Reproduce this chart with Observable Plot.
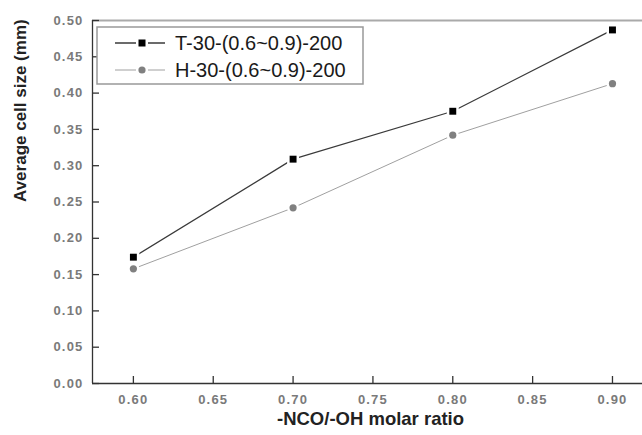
<!DOCTYPE html>
<html><head><meta charset="utf-8">
<script src="https://cdn.jsdelivr.net/npm/d3@7"></script>
<script src="https://cdn.jsdelivr.net/npm/@observablehq/plot@0.6"></script>
<style>
body{margin:0;background:#fff}
svg.chart [aria-label="x-axis tick label"] text, svg.chart [aria-label="y-axis tick label"] text{letter-spacing:1.2px}
</style>
</head><body><div id="chart"></div>
<script>
const ratios = [0.60, 0.70, 0.80, 0.90];
const seriesT = [0.174, 0.309, 0.375, 0.487];
const seriesH = [0.158, 0.242, 0.342, 0.413];
const seriesNames = ["T-30-(0.6~0.9)-200", "H-30-(0.6~0.9)-200"];
const xTicks = [0.60, 0.65, 0.70, 0.75, 0.80, 0.85, 0.90];
const yTicks = [0.00, 0.05, 0.10, 0.15, 0.20, 0.25, 0.30, 0.35, 0.40, 0.45, 0.50];
const xDomain = [0.5744, 0.9188];
const yDomain = [0, 0.5];
const xTitle = "-NCO/-OH molar ratio";
const yTitle = "Average cell size (mm)";

const rowsT = ratios.map((r, i) => ({x: r, y: seriesT[i]}));
const rowsH = ratios.map((r, i) => ({x: r, y: seriesH[i]}));

const font = "Liberation Sans, Arial, sans-serif";
const fmt = d3.format(".2f");
const W = 642, H = 435, ML = 92, MR = 0, MT = 20, MB = 52;
const tickLen = 7;

const chart = Plot.plot({
  className: "chart",
  width: W,
  height: H,
  marginLeft: ML,
  marginRight: MR,
  marginTop: MT,
  marginBottom: MB,
  style: {fontFamily: font, background: "#fff"},
  x: {domain: xDomain},
  y: {domain: yDomain},
  marks: [
    Plot.ruleY([yDomain[1]], {stroke: "#aaa", strokeWidth: 2}),
    Plot.tickX(xTicks, {x: d => d, stroke: "#333", strokeWidth: 1.3, insetTop: (H - MT - MB) - tickLen}),
    Plot.tickY(yTicks, {y: d => d, stroke: "#333", strokeWidth: 1.3, insetRight: (W - ML - MR) - tickLen}),
    Plot.axisX({ticks: xTicks, tickSize: 0, tickPadding: 11, tickFormat: fmt, fill: "#7a7a7a", fontSize: 13, fontWeight: "bold", label: null}),
    Plot.axisY({ticks: yTicks, tickSize: 0, tickPadding: 9, tickFormat: fmt, fill: "#7a7a7a", fontSize: 13, fontWeight: "bold", label: null}),
    Plot.ruleY([yDomain[0]], {stroke: "#333", strokeWidth: 1.3}),
    Plot.ruleX([xDomain[0]], {stroke: "#333", strokeWidth: 1.3}),
    Plot.line(rowsH, {x: "x", y: "y", stroke: "#a0a0a0", strokeWidth: 1}),
    Plot.line(rowsT, {x: "x", y: "y", stroke: "#3a3a3a", strokeWidth: 1.3}),
    Plot.dot(rowsH, {x: "x", y: "y", r: 3.6, fill: "#808080", stroke: "#fff", strokeWidth: 5, paintOrder: "stroke"}),
    Plot.dot(rowsT, {x: "x", y: "y", r: 3.9, symbol: "square", fill: "#000", stroke: "#fff", strokeWidth: 5, paintOrder: "stroke"}),
    Plot.text([yTitle], {frameAnchor: "left", rotate: -90, dx: -72, fontSize: 17, fontWeight: "bold", fill: "#222"}),
    Plot.text([xTitle], {frameAnchor: "bottom", dx: 3, dy: 41, fontSize: 18.5, fontWeight: "bold", fill: "#222"})
  ]
});

// Legend box inside the plot frame
const svg = d3.select(chart);
const lg = svg.append("g").attr("font-family", font).attr("text-anchor", "start");
lg.append("rect").attr("x", 97).attr("y", 27).attr("width", 266).attr("height", 57)
  .attr("fill", "#fff").attr("stroke", "#999").attr("stroke-width", 1.5);
const legendStyles = [
  {stroke: "#3a3a3a", sw: 1.3, fill: "#000", shape: "square"},
  {stroke: "#a0a0a0", sw: 1, fill: "#808080", shape: "circle"}
];
seriesNames.forEach((name, i) => {
  const cy = 43 + i * 27;
  const s = legendStyles[i];
  lg.append("line").attr("x1", 115).attr("x2", 165).attr("y1", cy).attr("y2", cy)
    .attr("stroke", s.stroke).attr("stroke-width", s.sw);
  if (s.shape === "square") {
    lg.append("rect").attr("x", 142 - 3.5).attr("y", cy - 3.5).attr("width", 7).attr("height", 7)
      .attr("fill", s.fill).attr("stroke", "#fff").attr("stroke-width", 5).attr("paint-order", "stroke");
  } else {
    lg.append("circle").attr("cx", 142).attr("cy", cy).attr("r", 3.6)
      .attr("fill", s.fill).attr("stroke", "#fff").attr("stroke-width", 5).attr("paint-order", "stroke");
  }
  lg.append("text").attr("x", 175).attr("y", cy).attr("dy", "0.35em")
    .attr("font-size", 20).attr("fill", "#1a1a1a").text(name);
});

document.getElementById("chart").appendChild(chart);
</script>
</body></html>
